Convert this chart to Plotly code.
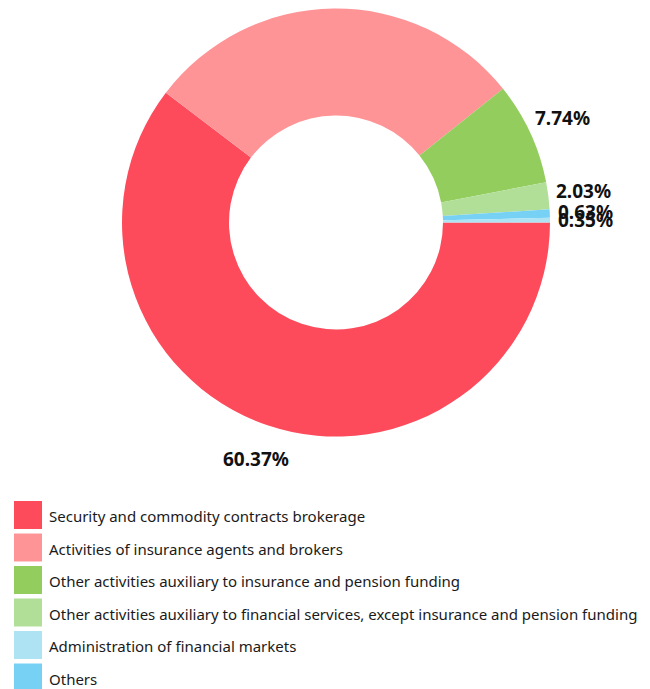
import math
import plotly.graph_objects as go

# Pie data (drawing order, clockwise from 3 o'clock)
slice_names = [
    "Security and commodity contracts brokerage",
    "Activities of insurance agents and brokers",
    "Other activities auxiliary to insurance and pension funding",
    "Other activities auxiliary to financial services, except insurance and pension funding",
    "Others",
    "Administration of financial markets",
]
slice_values = [60.37, 28.88, 7.74, 2.03, 0.63, 0.35]
slice_labels = ["60.37%", "", "7.74%", "2.03%", "0.63%", "0.35%"]
slice_colors = ["#FD4B5C", "#FF9497", "#93CD5E", "#B2DF98", "#76D1F5", "#AEE3F3"]

# Legend order
legend_names = [
    "Security and commodity contracts brokerage",
    "Activities of insurance agents and brokers",
    "Other activities auxiliary to insurance and pension funding",
    "Other activities auxiliary to financial services, except insurance and pension funding",
    "Administration of financial markets",
    "Others",
]
legend_colors = ["#FD4B5C", "#FF9497", "#93CD5E", "#B2DF98", "#AEE3F3", "#76D1F5"]

W, H = 642, 681
FONT = "Noto Sans"

# pie domain in pixels (left, right, top, bottom)
PL, PR, PT, PB = 114, 542, 0, 429
cx, cy = (PL + PR) / 2, (PT + PB) / 2
R = min(PR - PL, PB - PT) / 2
LABEL_R = R * 1.168

fig = go.Figure()
fig.add_trace(go.Pie(
    labels=slice_names,
    values=slice_values,
    textinfo="none",
    marker=dict(colors=slice_colors, line=dict(width=0)),
    hole=0.5,
    sort=False,
    direction="clockwise",
    rotation=90,
    showlegend=False,
    domain=dict(x=[PL / W, PR / W], y=[1 - PB / H, 1 - PT / H]),
    hoverinfo="label+percent",
))

annotations = []
total = sum(slice_values)
cum = 0.0
for v, lab in zip(slice_values, slice_labels):
    mid = (cum + v / 2) / total * 2 * math.pi
    cum += v
    if not lab:
        continue
    x = cx + LABEL_R * math.cos(mid)
    y = cy + LABEL_R * math.sin(mid)
    annotations.append(dict(
        x=x / W, y=1 - y / H, xref="paper", yref="paper",
        text=lab, showarrow=False, xanchor="center", yanchor="middle",
        font=dict(family=FONT, size=19, color="#111111", weight="bold"),
    ))

shapes = []
row0, step = 507, 32.5
for i, (name, col) in enumerate(zip(legend_names, legend_colors)):
    ry = row0 + i * step
    shapes.append(dict(
        type="rect", xref="paper", yref="paper",
        x0=6 / W, x1=34 / W, y0=1 - (ry + 14) / H, y1=1 - (ry - 14) / H,
        fillcolor=col, line=dict(width=0),
    ))
    annotations.append(dict(
        x=39 / W, y=1 - (ry + 1) / H, xref="paper", yref="paper",
        text=name, showarrow=False, xanchor="left", yanchor="middle",
        font=dict(family=FONT, size=15, color="#1a1a1a"),
    ))

fig.update_layout(
    width=W, height=H,
    margin=dict(l=0, r=0, t=0, b=0),
    paper_bgcolor="white",
    plot_bgcolor="white",
    shapes=shapes,
    annotations=annotations,
)

fig.write_html("out.html")
